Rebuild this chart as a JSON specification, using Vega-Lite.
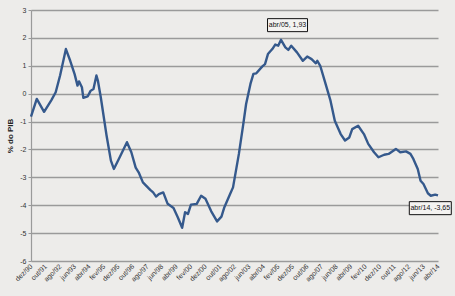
{
  "$schema": "https://vega.github.io/schema/vega-lite/v6.json",
  "width": 407,
  "height": 251,
  "autosize": {"type": "none"},
  "padding": {"left": 31, "top": 10, "right": 17, "bottom": 35},
  "background": "#edecea",
  "config": {
    "view": {"stroke": null},
    "font": "Liberation Sans"
  },
  "data": {"values": [
      {"d": "1990-12-01", "v": -0.82},
      {"d": "1991-04-01", "v": -0.19},
      {"d": "1991-09-01", "v": -0.65},
      {"d": "1992-02-01", "v": -0.23},
      {"d": "1992-05-01", "v": 0.05},
      {"d": "1992-08-01", "v": 0.65},
      {"d": "1992-12-01", "v": 1.6},
      {"d": "1993-03-01", "v": 1.18},
      {"d": "1993-06-01", "v": 0.7},
      {"d": "1993-08-01", "v": 0.29},
      {"d": "1993-09-01", "v": 0.44},
      {"d": "1993-11-01", "v": 0.23},
      {"d": "1993-12-01", "v": -0.15},
      {"d": "1994-03-01", "v": -0.1},
      {"d": "1994-05-01", "v": 0.1},
      {"d": "1994-07-01", "v": 0.17},
      {"d": "1994-09-01", "v": 0.65},
      {"d": "1994-10-01", "v": 0.47},
      {"d": "1994-12-01", "v": -0.13},
      {"d": "1995-04-01", "v": -1.5},
      {"d": "1995-07-01", "v": -2.4},
      {"d": "1995-09-01", "v": -2.7},
      {"d": "1996-01-01", "v": -2.28},
      {"d": "1996-06-01", "v": -1.74},
      {"d": "1996-09-01", "v": -2.1},
      {"d": "1996-12-01", "v": -2.65},
      {"d": "1997-02-01", "v": -2.82},
      {"d": "1997-05-01", "v": -3.18},
      {"d": "1997-10-01", "v": -3.45},
      {"d": "1997-12-01", "v": -3.54},
      {"d": "1998-02-01", "v": -3.69},
      {"d": "1998-04-01", "v": -3.6},
      {"d": "1998-07-01", "v": -3.54},
      {"d": "1998-10-01", "v": -3.95},
      {"d": "1999-02-01", "v": -4.1},
      {"d": "1999-05-01", "v": -4.43},
      {"d": "1999-08-01", "v": -4.81},
      {"d": "1999-10-01", "v": -4.25},
      {"d": "1999-12-01", "v": -4.31},
      {"d": "2000-02-01", "v": -3.98},
      {"d": "2000-06-01", "v": -3.95},
      {"d": "2000-09-01", "v": -3.66},
      {"d": "2000-12-01", "v": -3.77},
      {"d": "2001-04-01", "v": -4.22},
      {"d": "2001-08-01", "v": -4.58},
      {"d": "2001-11-01", "v": -4.41},
      {"d": "2002-01-01", "v": -4.07},
      {"d": "2002-05-01", "v": -3.6},
      {"d": "2002-07-01", "v": -3.36},
      {"d": "2002-11-01", "v": -2.16},
      {"d": "2003-02-01", "v": -1.09},
      {"d": "2003-04-01", "v": -0.37},
      {"d": "2003-07-01", "v": 0.35},
      {"d": "2003-09-01", "v": 0.71},
      {"d": "2003-11-01", "v": 0.73},
      {"d": "2004-03-01", "v": 0.97},
      {"d": "2004-05-01", "v": 1.06},
      {"d": "2004-07-01", "v": 1.42},
      {"d": "2004-10-01", "v": 1.6},
      {"d": "2004-12-01", "v": 1.76},
      {"d": "2005-02-01", "v": 1.72},
      {"d": "2005-04-01", "v": 1.93, "t": "abr/05, 1,93"},
      {"d": "2005-07-01", "v": 1.66},
      {"d": "2005-09-01", "v": 1.57},
      {"d": "2005-11-01", "v": 1.72},
      {"d": "2006-03-01", "v": 1.48},
      {"d": "2006-07-01", "v": 1.18},
      {"d": "2006-10-01", "v": 1.33},
      {"d": "2007-01-01", "v": 1.24},
      {"d": "2007-04-01", "v": 1.09},
      {"d": "2007-05-01", "v": 1.18},
      {"d": "2007-07-01", "v": 1.0},
      {"d": "2007-10-01", "v": 0.47},
      {"d": "2008-02-01", "v": -0.25},
      {"d": "2008-05-01", "v": -0.97},
      {"d": "2008-09-01", "v": -1.45},
      {"d": "2008-12-01", "v": -1.68},
      {"d": "2009-03-01", "v": -1.57},
      {"d": "2009-05-01", "v": -1.27},
      {"d": "2009-09-01", "v": -1.15},
      {"d": "2010-01-01", "v": -1.45},
      {"d": "2010-04-01", "v": -1.8},
      {"d": "2010-08-01", "v": -2.1},
      {"d": "2010-11-01", "v": -2.28},
      {"d": "2011-03-01", "v": -2.19},
      {"d": "2011-06-01", "v": -2.16},
      {"d": "2011-11-01", "v": -1.98},
      {"d": "2012-02-01", "v": -2.1},
      {"d": "2012-06-01", "v": -2.07},
      {"d": "2012-09-01", "v": -2.16},
      {"d": "2012-11-01", "v": -2.34},
      {"d": "2013-02-01", "v": -2.7},
      {"d": "2013-04-01", "v": -3.12},
      {"d": "2013-06-01", "v": -3.24},
      {"d": "2013-09-01", "v": -3.57},
      {"d": "2013-11-01", "v": -3.66},
      {"d": "2014-02-01", "v": -3.62},
      {"d": "2014-04-01", "v": -3.65, "t": "abr/14, -3,65"}
  ]},
  "encoding": {
    "x": {
      "field": "d", "type": "temporal",
      "scale": {"type": "utc", "domain": [{"year": 1990, "month": 12, "date": 1, "utc": true}, {"year": 2014, "month": 4, "date": 1, "utc": true}]},
      "axis": {
        "title": null, "grid": false, "domain": false, "ticks": false,
        "tickCount": {"interval": "month", "step": 1},
        "labelExpr": "((utcyear(datum.value) - 1990) * 12 + utcmonth(datum.value) - 11) % 10 == 0 ? ['jan','fev','mar','abr','mai','jun','jul','ago','set','out','nov','dez'][utcmonth(datum.value)] + '/' + utcFormat(datum.value, '%y') : ''",
        "labelAngle": -45, "labelAlign": "right", "labelBaseline": "middle",
        "labelFontSize": 7, "labelColor": "#333", "labelPadding": 4,
        "labelOverlap": false, "labelBound": false, "labelFlush": false
      }
    },
    "y": {
      "field": "v", "type": "quantitative",
      "scale": {"domain": [-6, 3], "nice": false, "zero": false},
      "axis": {
        "title": "% do PIB", "titleFontSize": 8, "titleFontWeight": "bold", "titleColor": "#222", "titlePadding": 5,
        "values": [-6, -5, -4, -3, -2, -1, 0, 1, 2, 3],
        "labelExpr": "datum.value < 0 ? '-' + abs(datum.value) : '' + datum.value",
        "labelFontSize": 7, "labelColor": "#333", "labelPadding": 2,
        "tickSize": 3, "tickColor": "#999", "domainColor": "#9a9a9a", "domainWidth": 1.2,
        "grid": true, "gridColor": "#9a9a9a", "gridWidth": 1.6
      }
    }
  },
  "layer": [
    {
      "data": {"values": [
        {"d": "1990-12-01"}, {"d": "1991-10-01"}, {"d": "1992-08-01"}, {"d": "1993-06-01"},
        {"d": "1994-04-01"}, {"d": "1995-02-01"}, {"d": "1995-12-01"}, {"d": "1996-10-01"},
        {"d": "1997-08-01"}, {"d": "1998-06-01"}, {"d": "1999-04-01"}, {"d": "2000-02-01"},
        {"d": "2000-12-01"}, {"d": "2001-10-01"}, {"d": "2002-08-01"}, {"d": "2003-06-01"},
        {"d": "2004-04-01"}, {"d": "2005-02-01"}, {"d": "2005-12-01"}, {"d": "2006-10-01"},
        {"d": "2007-08-01"}, {"d": "2008-06-01"}, {"d": "2009-04-01"}, {"d": "2010-02-01"},
        {"d": "2010-12-01"}, {"d": "2011-10-01"}, {"d": "2012-08-01"}, {"d": "2013-06-01"},
        {"d": "2014-04-01"}
      ]},
      "mark": {"type": "tick", "orient": "vertical", "size": 4, "thickness": 1, "color": "#8a8a8a", "opacity": 1, "yOffset": 2},
      "encoding": {"y": {"datum": 0}}
    },
    {
      "mark": {"type": "line", "color": "#35598c", "strokeWidth": 2.4, "strokeJoin": "round"}
    },
    {
      "transform": [{"filter": "datum.t == 'abr/05, 1,93'"}],
      "mark": {"type": "point", "shape": "M-1,-0.325L1,-0.325L1,0.325L-1,0.325Z", "size": 1600, "filled": true, "fill": "#f4f3f1", "stroke": "#111", "strokeWidth": 1, "opacity": 1, "xOffset": 6.5, "yOffset": -14.7}
    },
    {
      "transform": [{"filter": "datum.t == 'abr/05, 1,93'"}],
      "mark": {"type": "text", "fontSize": 7, "color": "#111", "dx": 6.5, "dy": -14.5, "align": "center", "baseline": "middle"},
      "encoding": {"text": {"field": "t"}}
    },
    {
      "transform": [{"filter": "datum.t == 'abr/14, -3,65'"}],
      "mark": {"type": "point", "shape": "M-1,-0.31L1,-0.31L1,0.31L-1,0.31Z", "size": 1764, "filled": true, "fill": "#f4f3f1", "stroke": "#111", "strokeWidth": 1, "opacity": 1, "xOffset": -7.7, "yOffset": 12.7}
    },
    {
      "transform": [{"filter": "datum.t == 'abr/14, -3,65'"}],
      "mark": {"type": "text", "fontSize": 7, "color": "#111", "dx": -7.7, "dy": 12.9, "align": "center", "baseline": "middle"},
      "encoding": {"text": {"field": "t"}}
    }
  ]
}
